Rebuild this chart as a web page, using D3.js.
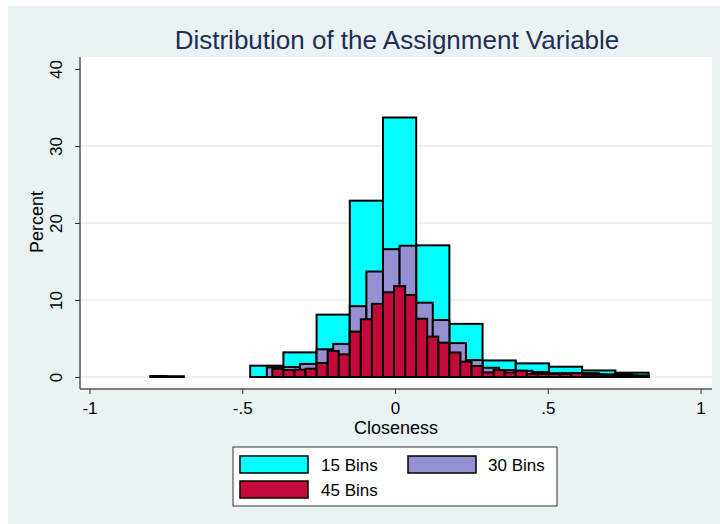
<!DOCTYPE html>
<html>
<head>
<meta charset="utf-8">
<script src="https://cdn.jsdelivr.net/npm/d3@7"></script>
<style>
  html, body { margin: 0; padding: 0; background: #ffffff; }
  svg { display: block; font-family: "Liberation Sans", Arial, sans-serif; }
</style>
</head>
<body>
<svg id="chart" width="720" height="524"></svg>
<script>
// ---- data ----
const binRange = [-0.80, 0.83];
const bins15 = [0.1, 0, 0, 1.47, 3.2, 8.1, 22.9, 33.7, 17.1, 6.9, 2.15, 1.77, 1.34, 0.85, 0.56];
const bins30 = [0.1, 0, 0, 0, 0, 0, 0, 1.26, 1.3, 1.7, 3.6, 4.3, 9.2, 13.7, 16.6,
                17.05, 9.65, 7.4, 4.4, 2.2, 1.2, 0.9, 0.8, 0.65, 0.5, 0.5, 0.5, 0.35, 0.35, 0.2];
const bins45 = [0.1, 0, 0, 0, 0, 0, 0, 0, 0, 0, 0, 1.08, 0.9, 0.95, 1.08,
                1.82, 3.38, 2.94, 5.9, 7.5, 9.5, 11.0, 11.8, 10.65, 7.57,
                5.24, 4.46, 3.18, 1.99, 1.43, 0.6, 0.9, 0.58, 0.82, 0.39,
                0.39, 0.39, 0.39, 0.5, 0.3, 0.3, 0.25, 0.2, 0.2, 0.15];
const seriesNames = ["15 Bins", "30 Bins", "45 Bins"];
const seriesColors = ["#00FFFF", "#9490D2", "#C40A3A"];
const xTicks = [-1, -0.5, 0, 0.5, 1];
const xTickLabels = ["-1", "-.5", "0", ".5", "1"];
const yTicks = [0, 10, 20, 30, 40];
const gridTicks = [0, 10, 20, 30];

// ---- drawing ----
const svg = d3.select("#chart");
svg.append("rect").attr("x", 8).attr("y", 6).attr("width", 712).attr("height", 518)
  .attr("fill", "#EAF2F3");

const plot = { left: 80, top: 57, right: 712, bottom: 389 };
svg.append("rect").attr("x", plot.left).attr("y", plot.top)
  .attr("width", plot.right - plot.left).attr("height", plot.bottom - plot.top)
  .attr("fill", "#ffffff");

const x = d3.scaleLinear().domain([-1, 1]).range([89.5, 700.5]);
const y = d3.scaleLinear().domain([0, 40]).range([377, 69]);

// gridlines
svg.append("g").selectAll("line").data(gridTicks).join("line")
  .attr("x1", plot.left).attr("x2", plot.right)
  .attr("y1", d => y(d)).attr("y2", d => y(d))
  .attr("stroke", "#E6EEF0").attr("stroke-width", 1.5);

// histograms
const allSeries = [bins15, bins30, bins45];
allSeries.forEach((vals, si) => {
  const n = vals.length;
  const w = (binRange[1] - binRange[0]) / n;
  const data = vals.map((v, i) => ({ x0: binRange[0] + i * w, x1: binRange[0] + (i + 1) * w, v }))
    .filter(d => d.v > 0);
  svg.append("g").selectAll("rect").data(data).join("rect")
    .attr("x", d => x(d.x0))
    .attr("width", d => x(d.x1) - x(d.x0))
    .attr("y", d => y(d.v))
    .attr("height", d => y(0) - y(d.v))
    .attr("fill", seriesColors[si])
    .attr("stroke", "#000")
    .attr("stroke-width", 2)
    .attr("stroke-linejoin", "miter");
});

// axes
const xAxis = d3.axisBottom(x).tickValues(xTicks).tickFormat((d, i) => xTickLabels[i])
  .tickSizeInner(5).tickSizeOuter(0).tickPadding(8);
const gx = svg.append("g").attr("transform", `translate(0,${plot.bottom})`).call(xAxis);
gx.select(".domain").attr("d", `M${plot.left},0H${plot.right}`).attr("stroke", "#555").attr("stroke-width", 1.5);
gx.selectAll(".tick line").attr("stroke", "#333").attr("stroke-width", 1);
gx.selectAll(".tick text").attr("font-size", 17).attr("fill", "#000")
  .attr("font-family", "Liberation Sans, Arial, sans-serif");

const yAxis = d3.axisLeft(y).tickValues(yTicks).tickFormat(d3.format("d"))
  .tickSizeInner(5).tickSizeOuter(0).tickPadding(4);
const gy = svg.append("g").attr("transform", `translate(${plot.left},0)`).call(yAxis);
gy.select(".domain").attr("d", `M0,${plot.top}V${plot.bottom}`).attr("stroke", "#555").attr("stroke-width", 1.5);
gy.selectAll(".tick line").attr("stroke", "#333").attr("stroke-width", 1);
gy.selectAll(".tick text")
  .attr("font-size", 17).attr("fill", "#000")
  .attr("font-family", "Liberation Sans, Arial, sans-serif")
  .attr("x", null).attr("dy", null)
  .attr("text-anchor", "middle")
  .attr("transform", "translate(-24,0) rotate(-90)")
  .attr("dominant-baseline", "central");

// title and axis titles
svg.append("text").attr("x", 397).attr("y", 49).attr("text-anchor", "middle")
  .attr("font-size", 26).attr("fill", "#1E2E55")
  .text("Distribution of the Assignment Variable");
svg.append("text").attr("x", 396).attr("y", 434).attr("text-anchor", "middle")
  .attr("font-size", 18).attr("fill", "#000").text("Closeness");
svg.append("text").attr("transform", "translate(43,222) rotate(-90)").attr("text-anchor", "middle")
  .attr("font-size", 18).attr("fill", "#000").text("Percent");

// legend
const lg = svg.append("g");
lg.append("rect").attr("x", 233).attr("y", 447).attr("width", 324).attr("height", 59)
  .attr("fill", "#fff").attr("stroke", "#333").attr("stroke-width", 1);
const legPos = [{ sx: 240, sy: 456, tx: 321 }, { sx: 408, sy: 456, tx: 488 }, { sx: 240, sy: 481, tx: 321 }];
seriesNames.forEach((name, i) => {
  const p = legPos[i];
  lg.append("rect").attr("x", p.sx).attr("y", p.sy).attr("width", 68).attr("height", 17)
    .attr("fill", seriesColors[i]).attr("stroke", "#000").attr("stroke-width", 1.5);
  lg.append("text").attr("x", p.tx).attr("y", p.sy + 15).attr("font-size", 17).attr("fill", "#000").text(name);
});
</script>
</body>
</html>
